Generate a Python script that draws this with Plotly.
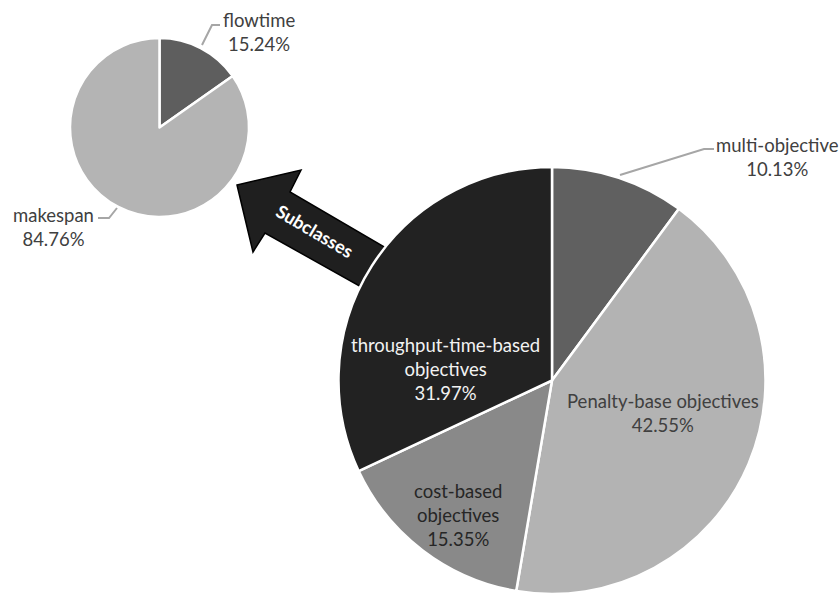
import plotly.graph_objects as go

# Main breakdown of objective types (percent)
main_labels = ["multi-objective", "Penalty-base objectives", "cost-based<br>objectives",
               "throughput-time-based<br>objectives"]
main_values = [10.13, 42.55, 15.35, 31.97]
main_colors = ["#606060", "#b3b3b3", "#898989", "#222222"]

# Subclasses of throughput-time-based objectives (percent)
sub_labels = ["flowtime", "makespan"]
sub_values = [15.24, 84.76]
sub_colors = ["#5e5e5e", "#b4b4b4"]

W, H = 840, 594
FONT = "Lato"
FS = 18.5


def px_dom(x0, x1, y0, y1):
    """Pixel box (top-left origin) -> pie domain in paper fractions."""
    return dict(x=[x0 / W, x1 / W], y=[1 - y1 / H, 1 - y0 / H])


fig = go.Figure()

fig.add_trace(go.Pie(
    labels=main_labels, values=main_values, sort=False, direction="clockwise",
    rotation=0, textinfo="none", hoverinfo="label+percent",
    marker=dict(colors=main_colors, line=dict(color="white", width=2.5)),
    domain=px_dom(338, 766, 167, 594), showlegend=False,
))
fig.add_trace(go.Pie(
    labels=sub_labels, values=sub_values, sort=False, direction="clockwise",
    rotation=0, textinfo="none", hoverinfo="label+percent",
    marker=dict(colors=sub_colors, line=dict(color="white", width=2.5)),
    domain=px_dom(70, 249, 38, 217), showlegend=False,
))

# Pixel-space overlay axes for the arrow, leader lines and labels
fig.update_xaxes(range=[0, W], visible=False, fixedrange=True)
fig.update_yaxes(range=[H, 0], visible=False, fixedrange=True)

# "Subclasses" arrow pointing from the big pie towards the small one
arrow_pts = [(237, 185), (301, 170), (290, 192), (410, 262), (388, 302),
             (265, 233), (253, 252)]
arrow_path = "M " + " L ".join(f"{x},{y}" for x, y in arrow_pts) + " Z"
fig.add_shape(type="path", path=arrow_path, xref="x", yref="y", layer="below",
              fillcolor="#1f1f1f", line=dict(color="#000000", width=1.5))
fig.add_annotation(x=315, y=231, xref="x", yref="y", text="<b>Subclasses</b>",
                   showarrow=False, textangle=30.5,
                   font=dict(family=FONT, size=18, color="white"))

# Leader lines for labels placed outside the pies
leaders = [
    [(620, 175), (704, 149), (714, 149)],
    [(202, 45), (212, 25), (220, 25)],
    [(117, 208), (109, 218), (98, 218)],
]
for pts in leaders:
    fig.add_shape(type="path", xref="x", yref="y",
                  path="M " + " L ".join(f"{x},{y}" for x, y in pts),
                  line=dict(color="#a6a6a6", width=2))

# Label anchors (pixel centres) and colours
main_pos = [(777, 157), (663, 413), (458, 515), (445, 369)]
main_txt = ["#404040", "#404040", "#262626", "#f2f2f2"]
sub_pos = [(259, 32), (53, 227)]

for lab, val, (x, y), c in zip(main_labels, main_values, main_pos, main_txt):
    fig.add_annotation(x=x, y=y, xref="x", yref="y", showarrow=False,
                       text=f"{lab}<br>{val:.2f}%",
                       font=dict(family=FONT, size=FS, color=c))
for lab, val, (x, y) in zip(sub_labels, sub_values, sub_pos):
    fig.add_annotation(x=x, y=y, xref="x", yref="y", showarrow=False,
                       text=f"{lab}<br>{val:.2f}%",
                       font=dict(family=FONT, size=FS, color="#404040"))

fig.update_layout(
    width=W, height=H, margin=dict(l=0, r=0, t=0, b=0),
    paper_bgcolor="white", plot_bgcolor="white",
)

fig.write_html("out.html")
